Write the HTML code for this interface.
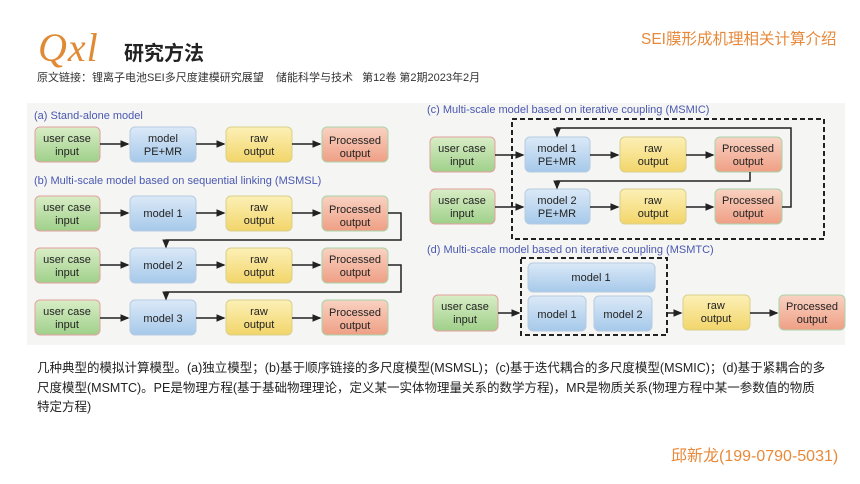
<!DOCTYPE html>
<html><head><meta charset="utf-8"><style>
body{margin:0;width:860px;height:484px;background:#fff;overflow:hidden;position:relative;font-family:"Liberation Sans","Noto Sans CJK SC",sans-serif}
.a{position:absolute;white-space:nowrap}
</style></head><body>
<div class="a" style="left:38px;top:24px;font-family:'Liberation Serif',serif;font-style:italic;font-size:40px;color:#e08a35;letter-spacing:1px">Qxl</div>
<div class="a" style="left:124px;top:37px;font-size:20px;font-weight:bold;color:#222">研究方法</div>
<div class="a" style="left:37px;top:69px;font-size:11px;color:#333">原文链接：锂离子电池SEI多尺度建模研究展望&nbsp;&nbsp;&nbsp;&nbsp;储能科学与技术&nbsp;&nbsp;&nbsp;第12卷 第2期2023年2月</div>
<div class="a" style="left:641px;top:27px;font-size:15.5px;color:#e8893a">SEI膜形成机理相关计算介绍</div>
<svg class="a" style="left:0;top:0" width="860" height="484" font-family="Liberation Sans,sans-serif">
<defs>
<linearGradient id="g" x1="0" y1="0" x2="0" y2="1"><stop offset="0" stop-color="#d9edc6"/><stop offset="1" stop-color="#9fd08a"/></linearGradient>
<linearGradient id="b" x1="0" y1="0" x2="0" y2="1"><stop offset="0" stop-color="#dbe9f7"/><stop offset="1" stop-color="#a6c9ea"/></linearGradient>
<linearGradient id="y" x1="0" y1="0" x2="0" y2="1"><stop offset="0" stop-color="#fcf0b6"/><stop offset="1" stop-color="#f2d56a"/></linearGradient>
<linearGradient id="r" x1="0" y1="0" x2="0" y2="1"><stop offset="0" stop-color="#f9d2c2"/><stop offset="1" stop-color="#ef9f85"/></linearGradient>
<marker id="m" markerWidth="6" markerHeight="6" refX="5" refY="3" orient="auto"><path d="M0,0.5 L6,3 L0,5.5z" fill="#222"/></marker>
</defs>
<rect x="27" y="103" width="818" height="242" fill="#f5f5f4"/>
<g font-size="11" fill="#4a58b0">
<text x="34" y="119">(a) Stand-alone model</text>
<text x="34" y="184">(b) Multi-scale model based on sequential linking (MSMSL)</text>
<text x="427" y="113">(c) Multi-scale model based on iterative coupling (MSMIC)</text>
<text x="427" y="253">(d) Multi-scale model based on iterative coupling (MSMTC)</text>
</g>
<g stroke-width="1">
<rect x="35" y="127" width="65" height="35" rx="5" fill="url(#g)" stroke="#e3a0a0"/>
<rect x="130" y="127" width="66" height="35" rx="5" fill="url(#b)" stroke="#b6cbe0"/>
<rect x="226" y="127" width="66" height="35" rx="5" fill="url(#y)" stroke="#d9cf8a"/>
<rect x="322" y="127" width="66" height="35" rx="5" fill="url(#r)" stroke="#a9d3a9"/>
<rect x="35" y="196" width="65" height="35" rx="5" fill="url(#g)" stroke="#e3a0a0"/>
<rect x="130" y="196" width="66" height="35" rx="5" fill="url(#b)" stroke="#b6cbe0"/>
<rect x="226" y="196" width="66" height="35" rx="5" fill="url(#y)" stroke="#d9cf8a"/>
<rect x="322" y="196" width="66" height="35" rx="5" fill="url(#r)" stroke="#a9d3a9"/>
<rect x="35" y="248" width="65" height="35" rx="5" fill="url(#g)" stroke="#e3a0a0"/>
<rect x="130" y="248" width="66" height="35" rx="5" fill="url(#b)" stroke="#b6cbe0"/>
<rect x="226" y="248" width="66" height="35" rx="5" fill="url(#y)" stroke="#d9cf8a"/>
<rect x="322" y="248" width="66" height="35" rx="5" fill="url(#r)" stroke="#a9d3a9"/>
<rect x="35" y="300" width="65" height="35" rx="5" fill="url(#g)" stroke="#e3a0a0"/>
<rect x="130" y="300" width="66" height="35" rx="5" fill="url(#b)" stroke="#b6cbe0"/>
<rect x="226" y="300" width="66" height="35" rx="5" fill="url(#y)" stroke="#d9cf8a"/>
<rect x="322" y="300" width="66" height="35" rx="5" fill="url(#r)" stroke="#a9d3a9"/>
<rect x="512" y="119" width="312" height="120" fill="none" stroke="#222" stroke-width="2" stroke-dasharray="5,3"/>
<rect x="430" y="137" width="65" height="35" rx="5" fill="url(#g)" stroke="#e3a0a0"/>
<rect x="525" y="137" width="65" height="35" rx="5" fill="url(#b)" stroke="#b6cbe0"/>
<rect x="620" y="137" width="66" height="35" rx="5" fill="url(#y)" stroke="#d9cf8a"/>
<rect x="715" y="137" width="67" height="35" rx="5" fill="url(#r)" stroke="#a9d3a9"/>
<rect x="430" y="189" width="65" height="35" rx="5" fill="url(#g)" stroke="#e3a0a0"/>
<rect x="525" y="189" width="65" height="35" rx="5" fill="url(#b)" stroke="#b6cbe0"/>
<rect x="620" y="189" width="66" height="35" rx="5" fill="url(#y)" stroke="#d9cf8a"/>
<rect x="715" y="189" width="67" height="35" rx="5" fill="url(#r)" stroke="#a9d3a9"/>
<rect x="521" y="258" width="146" height="77" fill="none" stroke="#222" stroke-width="2" stroke-dasharray="5,3"/>
<rect x="528" y="263" width="127" height="29" rx="5" fill="url(#b)" stroke="#b6cbe0"/>
<rect x="528" y="296" width="58" height="35" rx="5" fill="url(#b)" stroke="#b6cbe0"/>
<rect x="594" y="296" width="58" height="35" rx="5" fill="url(#b)" stroke="#b6cbe0"/>
<rect x="433" y="295" width="65" height="36" rx="5" fill="url(#g)" stroke="#e3a0a0"/>
<rect x="683" y="295" width="67" height="35" rx="5" fill="url(#y)" stroke="#d9cf8a"/>
<rect x="779" y="295" width="66" height="35" rx="5" fill="url(#r)" stroke="#a9d3a9"/>
</g>
<g stroke="#222" stroke-width="1.5" fill="none" marker-end="url(#m)">
<path d="M100 144H128"/><path d="M196 144H224"/><path d="M292 144H320"/>
<path d="M100 213H128"/><path d="M196 213H224"/><path d="M292 213H320"/>
<path d="M100 265H128"/><path d="M196 265H224"/><path d="M292 265H320"/>
<path d="M100 318H128"/><path d="M196 318H224"/><path d="M292 318H320"/>
<path d="M388 213H401V240H166V247"/>
<path d="M388 265H401V292H166V299"/>
<path d="M495 155H523"/><path d="M590 155H618"/><path d="M686 155H713"/>
<path d="M495 207H523"/><path d="M590 207H618"/><path d="M686 207H713"/>
<path d="M782 207H791V128H557V136"/>
<path d="M750 172V181H557V188"/>
<path d="M498 313H519"/><path d="M667 313H681"/><path d="M750 313H777"/>
</g>
<g font-size="11" fill="#222" text-anchor="middle">
<text x="67" y="142">user case</text><text x="67" y="155">input</text>
<text x="163" y="142">model</text><text x="163" y="155">PE+MR</text>
<text x="259" y="142">raw</text><text x="259" y="155">output</text>
<text x="355" y="144">Processed</text><text x="355" y="157">output</text>
<text x="67" y="211">user case</text><text x="67" y="224">input</text>
<text x="163" y="217">model 1</text>
<text x="259" y="211">raw</text><text x="259" y="224">output</text>
<text x="355" y="213">Processed</text><text x="355" y="226">output</text>
<text x="67" y="263">user case</text><text x="67" y="276">input</text>
<text x="163" y="269">model 2</text>
<text x="259" y="263">raw</text><text x="259" y="276">output</text>
<text x="355" y="263">Processed</text><text x="355" y="276">output</text>
<text x="67" y="315">user case</text><text x="67" y="328">input</text>
<text x="163" y="322">model 3</text>
<text x="259" y="315">raw</text><text x="259" y="328">output</text>
<text x="355" y="316">Processed</text><text x="355" y="329">output</text>
<text x="462" y="152">user case</text><text x="462" y="165">input</text>
<text x="557" y="152">model 1</text><text x="557" y="165">PE+MR</text>
<text x="653" y="152">raw</text><text x="653" y="165">output</text>
<text x="748" y="152">Processed</text><text x="748" y="165">output</text>
<text x="462" y="204">user case</text><text x="462" y="217">input</text>
<text x="557" y="204">model 2</text><text x="557" y="217">PE+MR</text>
<text x="653" y="204">raw</text><text x="653" y="217">output</text>
<text x="748" y="204">Processed</text><text x="748" y="217">output</text>
<text x="591" y="281">model 1</text>
<text x="557" y="318">model 1</text><text x="623" y="318">model 2</text>
<text x="465" y="310">user case</text><text x="465" y="323">input</text>
<text x="716" y="309">raw</text><text x="716" y="322">output</text>
<text x="812" y="310">Processed</text><text x="812" y="323">output</text>
</g>
</svg>
<div class="a" style="left:37px;top:359px;font-size:12.5px;line-height:19.5px;color:#222;white-space:normal;width:790px">几种典型的模拟计算模型。(a)独立模型；(b)基于顺序链接的多尺度模型(MSMSL)；(c)基于迭代耦合的多尺度模型(MSMIC)；(d)基于紧耦合的多尺度模型(MSMTC)。PE是物理方程(基于基础物理理论，定义某一实体物理量关系的数学方程)，MR是物质关系(物理方程中某一参数值的物质特定方程)</div>
<div class="a" style="left:671px;top:442px;font-size:16px;color:#e8893a">邱新龙(199-0790-5031)</div>
</body></html>
